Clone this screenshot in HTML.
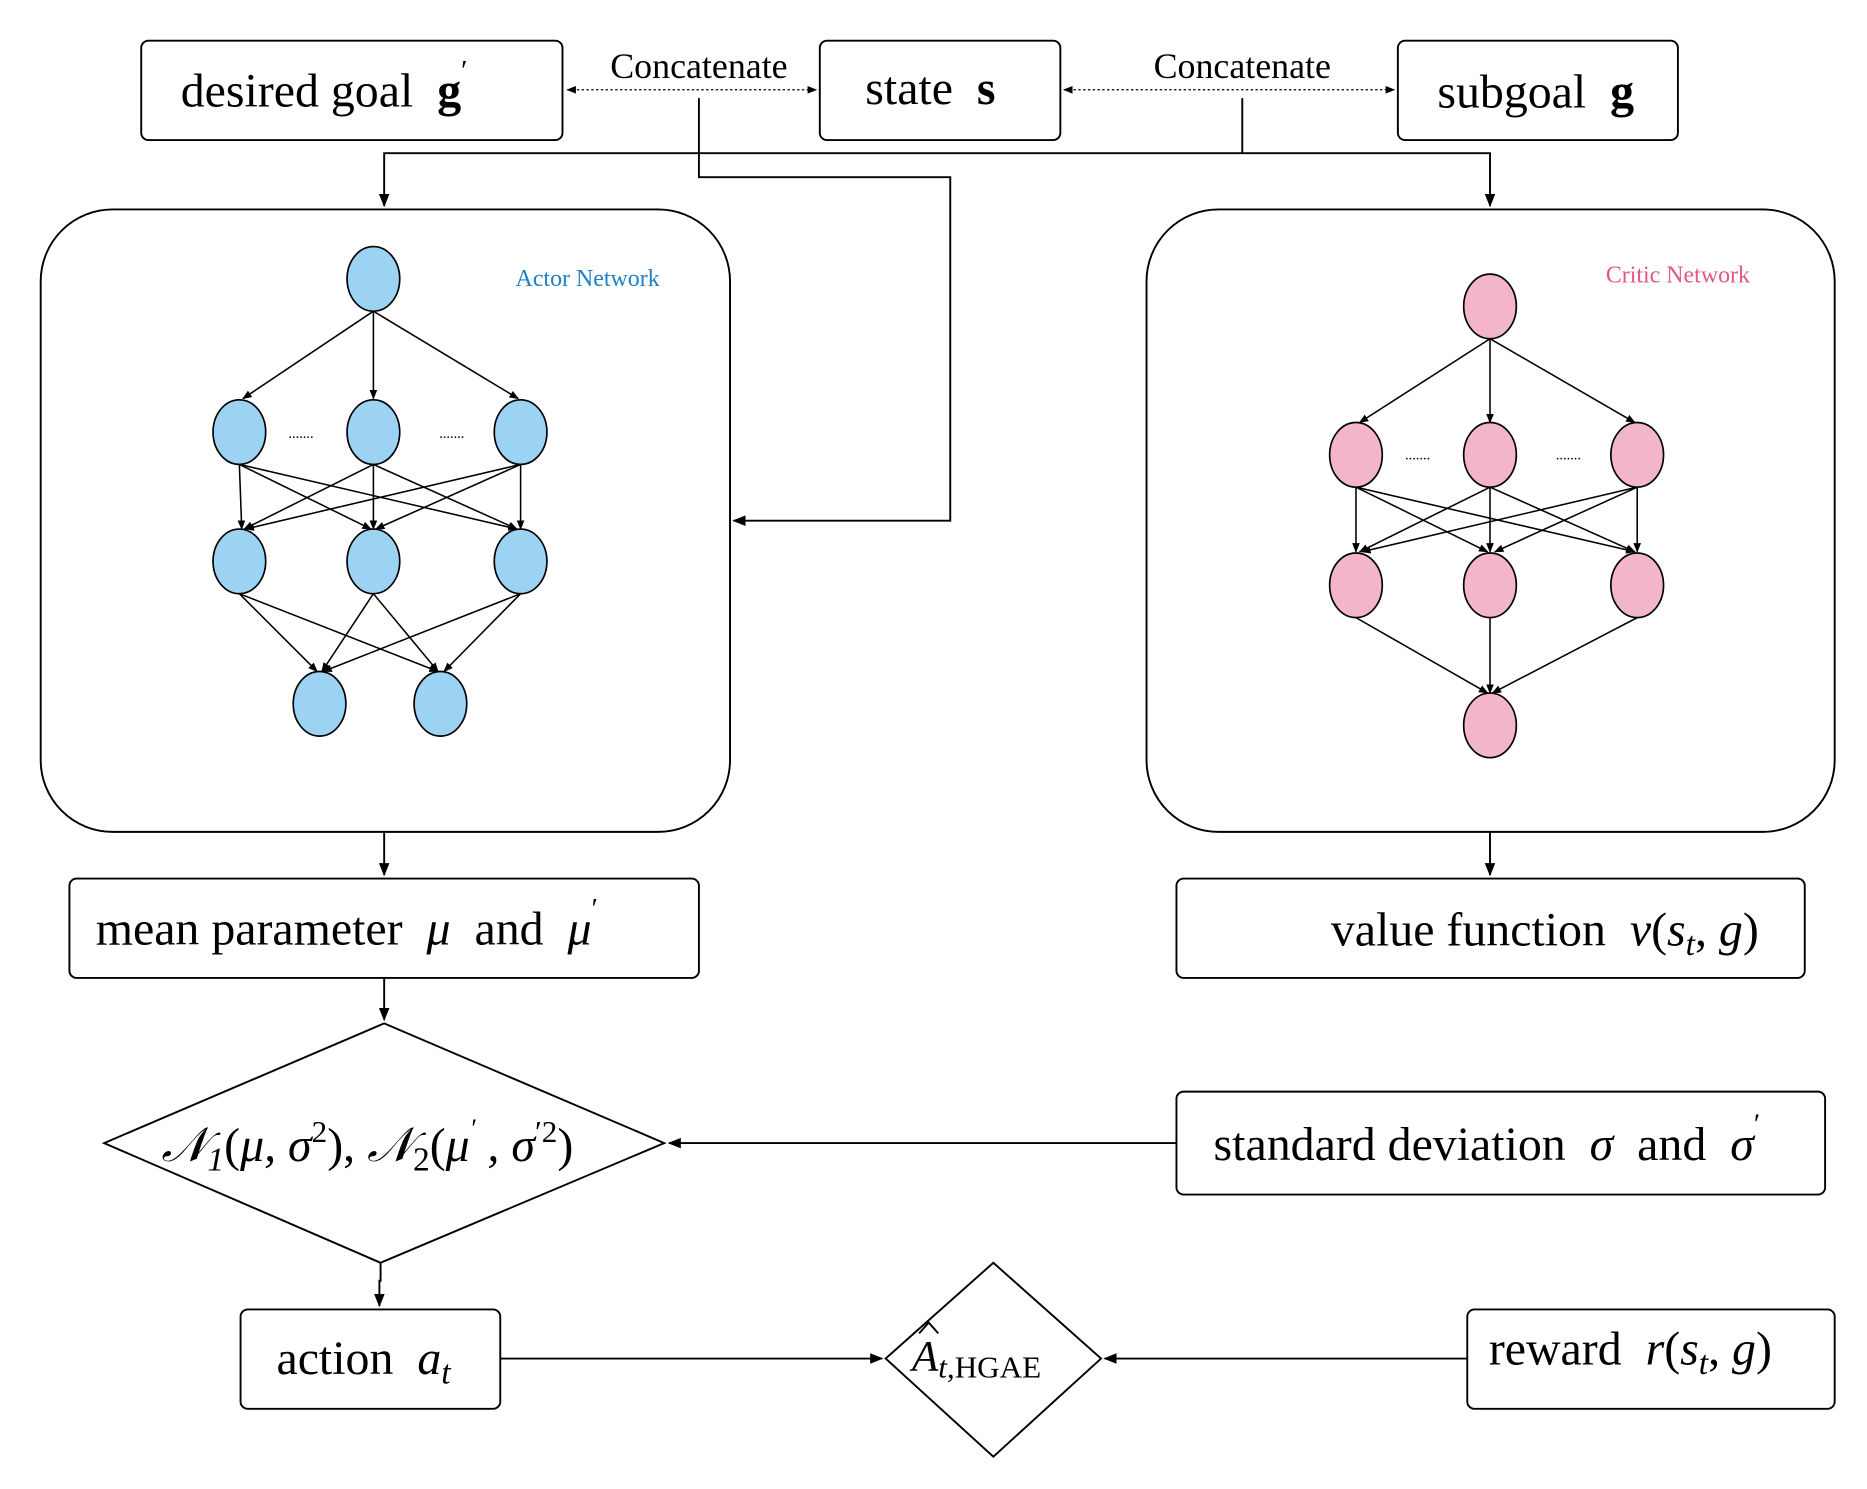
<!DOCTYPE html>
<html><head><meta charset="utf-8"><style>
html,body{margin:0;padding:0;background:#fff;}
svg{display:block;}
text{font-family:"Liberation Serif",serif;fill:#000;white-space:pre;}
</style></head><body>
<svg width="1867" height="1489" viewBox="0 0 1560 1244" preserveAspectRatio="none" xmlns="http://www.w3.org/2000/svg" xml:space="preserve">
<defs>
<marker id="ah" viewBox="0 0 10 10" refX="9" refY="5" markerWidth="8" markerHeight="8" orient="auto-start-reverse" markerUnits="userSpaceOnUse"><path d="M0,1 L10,5 L0,9 z" fill="#000"/></marker>
<marker id="ahs" viewBox="0 0 10 10" refX="9" refY="5" markerWidth="11" markerHeight="11" orient="auto-start-reverse" markerUnits="userSpaceOnUse"><path d="M0,1 L10,5 L0,9 z" fill="#000"/></marker>
</defs>

<g stroke="#000" stroke-width="1.6" fill="#fff">
<rect x="118" y="34" width="352" height="83" rx="6"/>
<rect x="685" y="34" width="201" height="83" rx="6"/>
<rect x="1168" y="34" width="234" height="83" rx="6"/>
<rect x="34" y="175" width="576" height="520" rx="60"/>
<rect x="958" y="175" width="575" height="520" rx="60"/>
<rect x="58" y="734" width="526" height="83" rx="6"/>
<rect x="983" y="734" width="525" height="83" rx="6"/>
<rect x="983" y="912" width="542" height="86" rx="6"/>
<rect x="201" y="1094" width="217" height="83" rx="6"/>
<rect x="1226" y="1094" width="307" height="83" rx="6"/>
<polygon points="87,955 321,855 555,955 318,1055"/>
<polygon points="740,1135 830,1055 920,1135 830,1217"/>
</g>

<g stroke="#000" stroke-width="1" stroke-dasharray="2,2" fill="none">
<line x1="474" y1="75" x2="682" y2="75" marker-start="url(#ah)" marker-end="url(#ah)"/>
<line x1="889" y1="75" x2="1165" y2="75" marker-start="url(#ah)" marker-end="url(#ah)"/>
</g>

<g stroke="#000" stroke-width="1.6" fill="none">
<polyline points="584,82 584,148 794,148 794,435 613,435" marker-end="url(#ahs)"/>
<line x1="1038" y1="82" x2="1038" y2="128"/>
<polyline points="321,172 321,128 1245,128 1245,172" marker-start="url(#ahs)" marker-end="url(#ahs)"/>
<line x1="321" y1="695" x2="321" y2="731" marker-end="url(#ahs)"/>
<line x1="1245" y1="695" x2="1245" y2="731" marker-end="url(#ahs)"/>
<line x1="321" y1="817" x2="321" y2="852" marker-end="url(#ahs)"/>
<line x1="983" y1="955" x2="559" y2="955" marker-end="url(#ahs)"/>
<polyline points="318,1055 318,1070 317,1070 317,1091" marker-end="url(#ahs)"/>
<line x1="418" y1="1135" x2="737" y2="1135" marker-end="url(#ahs)"/>
<line x1="1226" y1="1135" x2="923" y2="1135" marker-end="url(#ahs)"/>
</g>

<!-- Actor network -->
<g stroke="#000" stroke-width="1.3" marker-end="url(#ah)">
<line x1="312" y1="260" x2="203" y2="333"/><line x1="312" y1="260" x2="312" y2="333"/><line x1="312" y1="260" x2="433" y2="333"/>
<line x1="200" y1="388" x2="202" y2="442"/><line x1="200" y1="388" x2="310" y2="442"/><line x1="200" y1="388" x2="432" y2="442"/>
<line x1="312" y1="388" x2="204" y2="442"/><line x1="312" y1="388" x2="312" y2="442"/><line x1="312" y1="388" x2="432" y2="442"/>
<line x1="435" y1="388" x2="205" y2="442"/><line x1="435" y1="388" x2="314" y2="442"/><line x1="435" y1="388" x2="435" y2="442"/>
<line x1="200" y1="496" x2="265" y2="561"/><line x1="200" y1="496" x2="366" y2="561"/>
<line x1="312" y1="496" x2="269" y2="561"/><line x1="312" y1="496" x2="366" y2="561"/>
<line x1="435" y1="496" x2="270" y2="561"/><line x1="435" y1="496" x2="371" y2="561"/>
</g>
<g fill="#9cd3f3" stroke="#000" stroke-width="1.4">
<ellipse cx="312" cy="233" rx="22" ry="27"/>
<ellipse cx="200" cy="361" rx="22" ry="27"/>
<ellipse cx="312" cy="361" rx="22" ry="27"/>
<ellipse cx="435" cy="361" rx="22" ry="27"/>
<ellipse cx="200" cy="469" rx="22" ry="27"/>
<ellipse cx="312" cy="469" rx="22" ry="27"/>
<ellipse cx="435" cy="469" rx="22" ry="27"/>
<ellipse cx="267" cy="588" rx="22" ry="27"/>
<ellipse cx="368" cy="588" rx="22" ry="27"/>
</g>
<g font-size="12"><text x="241" y="366">.......</text><text x="367" y="366">.......</text></g>

<!-- Critic network -->
<g stroke="#000" stroke-width="1.3" marker-end="url(#ah)">
<line x1="1245" y1="283" x2="1136" y2="353"/><line x1="1245" y1="283" x2="1245" y2="353"/><line x1="1245" y1="283" x2="1366" y2="353"/>
<line x1="1133" y1="407" x2="1133" y2="461"/><line x1="1133" y1="407" x2="1243" y2="461"/><line x1="1133" y1="407" x2="1366" y2="461"/>
<line x1="1245" y1="407" x2="1136" y2="461"/><line x1="1245" y1="407" x2="1245" y2="461"/><line x1="1245" y1="407" x2="1366" y2="461"/>
<line x1="1368" y1="407" x2="1138" y2="461"/><line x1="1368" y1="407" x2="1249" y2="461"/><line x1="1368" y1="407" x2="1368" y2="461"/>
<line x1="1133" y1="516" x2="1243" y2="579"/><line x1="1245" y1="516" x2="1245" y2="579"/><line x1="1368" y1="516" x2="1247" y2="579"/>
</g>
<g fill="#f2b6c8" stroke="#000" stroke-width="1.4">
<ellipse cx="1245" cy="256" rx="22" ry="27"/>
<ellipse cx="1133" cy="380" rx="22" ry="27"/>
<ellipse cx="1245" cy="380" rx="22" ry="27"/>
<ellipse cx="1368" cy="380" rx="22" ry="27"/>
<ellipse cx="1133" cy="489" rx="22" ry="27"/>
<ellipse cx="1245" cy="489" rx="22" ry="27"/>
<ellipse cx="1368" cy="489" rx="22" ry="27"/>
<ellipse cx="1245" cy="606" rx="22" ry="27"/>
</g>
<g font-size="12"><text x="1174" y="384">.......</text><text x="1300" y="384">.......</text></g>

<!-- labels -->
<text x="151" y="89" font-size="40">desired goal  <tspan font-weight="bold">g</tspan><tspan font-size="24" dy="-22">′</tspan></text>
<text x="723" y="87" font-size="40">state  <tspan font-weight="bold">s</tspan></text>
<text x="1201" y="90" font-size="40">subgoal  <tspan font-weight="bold">g</tspan></text>
<text x="584" y="65" font-size="30" text-anchor="middle">Concatenate</text>
<text x="1038" y="65" font-size="30" text-anchor="middle">Concatenate</text>
<text x="491" y="239" font-size="20" text-anchor="middle" style="fill:#1f80c8">Actor Network</text>
<text x="1402" y="236" font-size="20" text-anchor="middle" style="fill:#e2578a">Critic Network</text>
<text x="80" y="789" font-size="40">mean parameter  <tspan font-style="italic">μ</tspan>  and  <tspan font-style="italic">μ</tspan><tspan font-size="24" dy="-22">′</tspan></text>
<text x="1112" y="790" font-size="40">value function  <tspan font-style="italic">v</tspan>(<tspan font-style="italic">s</tspan><tspan font-style="italic" font-size="28" dy="8">t</tspan><tspan dy="-8">, </tspan><tspan font-style="italic">g</tspan>)</text>
<text x="135" y="970" font-size="40" font-style="italic">𝒩<tspan font-size="28" dy="8">1</tspan><tspan dy="-8" font-style="normal">(</tspan>μ, σ<tspan font-size="26" dy="-16" font-style="normal">2</tspan><tspan dy="16" font-style="normal">), </tspan>𝒩<tspan font-size="28" dy="8" font-style="normal">2</tspan><tspan dy="-8" font-style="normal">(</tspan>μ<tspan font-size="22" dy="-20">′</tspan><tspan dy="20"> , σ</tspan><tspan font-size="26" dy="-16" font-style="normal">′2</tspan><tspan dy="16" font-style="normal">)</tspan></text>
<text x="1014" y="969" font-size="40">standard deviation  <tspan font-style="italic">σ</tspan>  and  <tspan font-style="italic">σ</tspan><tspan font-size="24" dy="-22">′</tspan></text>
<text x="231" y="1148" font-size="40">action  <tspan font-style="italic">a</tspan><tspan font-style="italic" font-size="28" dy="8">t</tspan></text>
<text x="762" y="1145" font-size="36" font-style="italic">A<tspan font-size="26" dy="6">t,</tspan><tspan font-size="26" font-style="normal">HGAE</tspan></text>
<path d="M768,1114 L776,1105 L784,1114" stroke="#000" stroke-width="1.6" fill="none"/>
<text x="1244" y="1140" font-size="40">reward  <tspan font-style="italic">r</tspan>(<tspan font-style="italic">s</tspan><tspan font-style="italic" font-size="28" dy="8">t</tspan><tspan dy="-8">, </tspan><tspan font-style="italic">g</tspan>)</text>
</svg>
</body></html>
